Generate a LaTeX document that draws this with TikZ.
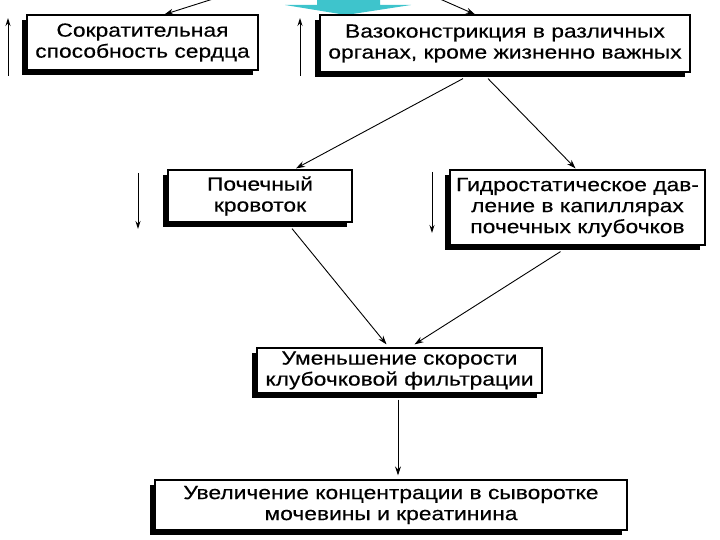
\documentclass[tikz,border=0pt]{standalone}
\usepackage{fontspec}
\setmainfont{Liberation Sans}[FakeStretch=1.2,FakeBold=0.3]
\usetikzlibrary{arrows.meta,shadows,calc}
\definecolor{arrcyan}{RGB}{62,196,204}
\tikzset{
  box/.style={draw=black,line width=1.2pt,fill=white,inner sep=2pt,align=center,
    font=\fontsize{19}{21}\selectfont,
    general shadow={shadow xshift=-5pt,shadow yshift=-5pt,fill=black}},
  arr/.style={line width=0.9pt,-{Stealth[length=9pt,width=6pt]}},
  side/.style={line width=0.9pt,-{Stealth[length=8pt,width=5pt]}}
}
\begin{document}
\begin{tikzpicture}[x=1pt,y=-1pt]
\useasboundingbox (0,0) rectangle (720,540);
% cyan block arrow
\fill[arrcyan] (317,-2) -- (380,-2) -- (380,5) -- (411,5) -- (346,15) -- (285,5) -- (317,5) -- cycle;
% boxes
\node[box,minimum width=231pt,minimum height=55pt] (b1) at (142.5,42.5) {Сократительная\\способность сердца};
\node[box,minimum width=370pt,minimum height=57pt] (b2) at (505,43.5) {Вазоконстрикция в различных\\органах, кроме жизненно важных};
\node[box,minimum width=184pt,minimum height=52pt] (b3) at (260,196) {Почечный\\кровоток};
\node[box,minimum width=255pt,minimum height=75pt] (b4) at (577.5,207.5) {Гидростатическое дав-\\ление в капиллярах\\почечных клубочков};
\node[box,minimum width=285pt,minimum height=45pt] (b5) at (399.5,370.5) {Уменьшение скорости\\клубочковой фильтрации};
\node[box,minimum width=472pt,minimum height=50pt] (b6) at (391,505) {Увеличение концентрации в сыворотке\\мочевины и креатинина};
% free-end coordinates
\coordinate (t1) at (213,-1);
\coordinate (t2) at (440,-1);
\coordinate (u1a) at (8,76); \coordinate (u1b) at (8,18);
\coordinate (u2a) at (300,76); \coordinate (u2b) at (300,18);
\coordinate (d1a) at (138,173); \coordinate (d1b) at (138,229);
\coordinate (d2a) at (432,172); \coordinate (d2b) at (432,233);
% connectors
\draw[arr] (t1) -- ([xshift=22pt]b1.north);
\draw[arr] (t2) -- ([xshift=-30pt]b2.north);
\draw[arr] ([xshift=-42pt,yshift=-6pt]b2.south) -- ([xshift=36pt,yshift=1pt]b3.north);
\draw[arr] ([xshift=-17pt,yshift=-6pt]b2.south) -- ([xshift=-2pt,yshift=1pt]b4.north);
\draw[arr] ([xshift=32pt,yshift=-6pt]b3.south) -- ([xshift=-13pt,yshift=3pt]b5.north);
\draw[arr] ([xshift=-17pt,yshift=-6pt]b4.south) -- ([xshift=15pt,yshift=3pt]b5.north);
\draw[arr] ([xshift=-1.5pt,yshift=-6pt]b5.south) -- ([xshift=7pt,yshift=4pt]b6.north);
% side arrows
\draw[side] (u1a) -- (u1b);
\draw[side] (u2a) -- (u2b);
\draw[side] (d1a) -- (d1b);
\draw[side] (d2a) -- (d2b);
\end{tikzpicture}
\end{document}
